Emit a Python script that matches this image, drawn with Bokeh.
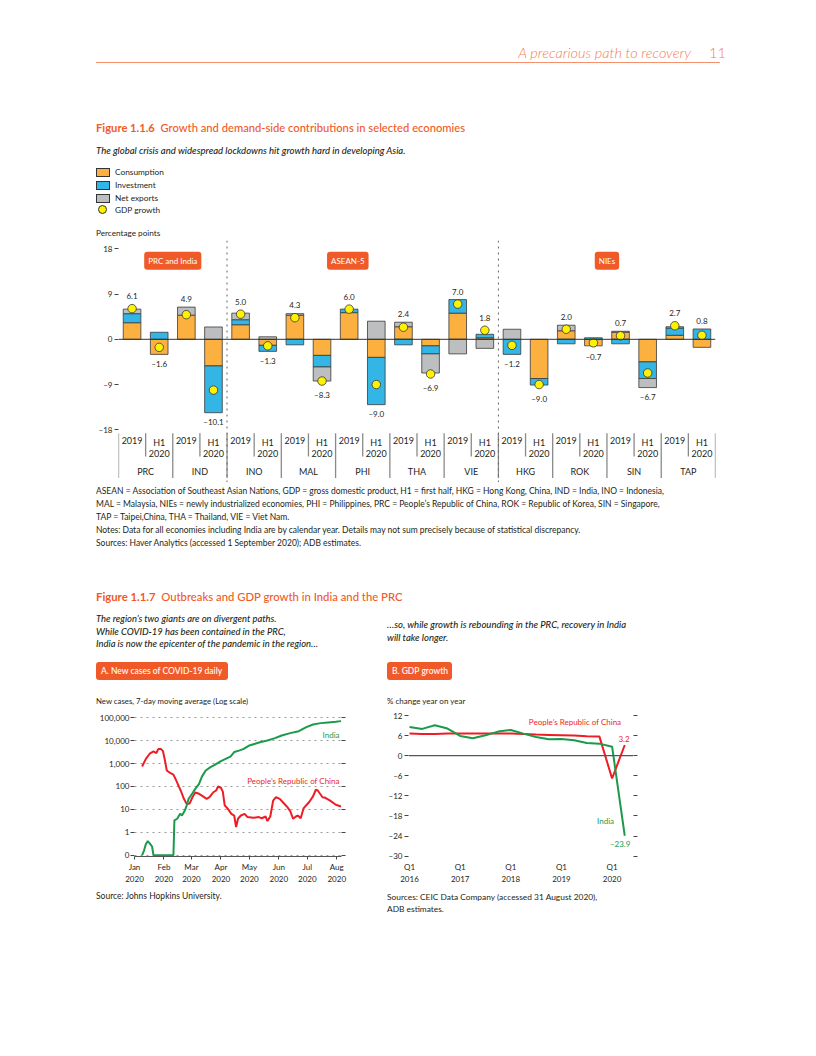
import numpy as np
from bokeh.plotting import figure
from bokeh.models import (FactorRange, Range1d, FixedTicker, Span, Label, Div,
                          ColumnDataSource, LinearAxis, LogAxis)
from bokeh.layouts import column, row
from bokeh.embed import file_html
from bokeh.resources import INLINE
from bokeh.core.properties import value

FONT = "Lato"
INK = "#231f20"
TITLE_ORANGE = "#F05A28"
C_CONS = "#FBB040"
C_INV = "#33B5E5"
C_NX = "#BCBEC0"
C_GDP = "#FFF200"
RED = "#EE1C25"
GREEN = "#1B9A4B"

# ---------------- Figure 1.1.6 data ----------------
economies = ["PRC", "IND", "INO", "MAL", "PHI", "THA", "VIE", "HKG", "ROK", "SIN", "TAP"]
periods = ["2019", "H1 2020"]
period_labels = ["2019", "H1\n2020"]
consumption = [3.3, -3.0, 4.8, -5.3, 2.9, -1.2, 4.8, -3.2, 5.3, -3.6, 2.5, -1.3,
               5.2, 0.3, 0.0, -7.8, 1.7, -1.3, 1.4, -4.5, 0.8, -1.6]
investment = [1.8, 1.4, 0.0, -9.3, 1.0, -1.2, -1.1, -2.3, 0.7, -9.4, -1.1, -1.6,
              2.7, 0.7, -3.0, -1.3, -0.9, 0.3, -0.9, -3.3, 1.45, 2.05]
net_exports = [0.9, 0.0, 1.6, 2.45, 1.3, 0.5, 0.3, -2.8, 0.0, 3.6, 0.9, -3.8,
               -2.9, -1.8, 2.0, 0.0, 1.1, 0.0, 0.2, -1.8, 0.25, 0.0]
gdp_growth = [6.1, -1.6, 4.9, -10.1, 5.0, -1.3, 4.3, -8.3, 6.0, -9.0, 2.4, -6.9,
              7.0, 1.8, -1.2, -9.0, 2.0, -0.7, 0.7, -6.7, 2.7, 0.8]
bar_yticks = [-18, -9, 0, 9, 18]
group_names = ["PRC and India", "ASEAN-5", "NIEs"]
legend_names = ["Consumption", "Investment", "Net exports", "GDP growth"]

# ---------------- Figure 1.1.7 A data (day of 2020, 7-day avg new cases) -------
prc_days = [8, 12, 16, 20, 23, 25, 28, 30, 32, 34, 38, 41, 44, 47, 49, 52, 55, 58, 61, 64,
            68, 71, 76, 79, 83, 86, 88, 91, 93, 95, 98, 102, 105, 107, 109, 112, 116, 119,
            125, 131, 134, 138, 140, 143, 146, 149, 153, 157, 161, 164, 167, 170, 172, 175,
            178, 184, 188, 191, 193, 198, 201, 206, 212, 217.5]
prc_cases = [750, 1600, 2700, 3400, 2900, 4300, 4300, 3500, 1400, 500, 380, 330, 180, 94,
             62, 29, 17, 18, 34, 55, 48, 40, 29, 34, 56, 67, 100, 88, 60, 15, 11, 6.4, 5.4,
             1.7, 3.9, 5.4, 6.4, 4.6, 4.3, 4.6, 4.1, 4.9, 3.1, 4.9, 24, 34, 29, 19, 12.5,
             8.4, 3.9, 4.9, 5.4, 4.1, 11, 21, 37, 72, 67, 34, 32, 24, 16, 13.4]
ind_days = [8, 10, 12, 14, 16, 18.5, 20, 41, 42, 45, 48, 50, 53, 55, 57, 61, 64, 68, 71, 75,
            80, 85, 91, 96, 101, 105, 110, 115, 121, 127, 133, 140, 148, 155, 164, 173, 181,
            188, 196, 204, 212, 217.5]
ind_cases = [0, 0.16, 0.31, 0.41, 0.33, 0.24, 0, 0, 3.3, 3.9, 6.4, 5.4, 8.9, 15, 29, 51, 79,
             130, 270, 500, 700, 910, 1280, 1600, 2000, 3200, 3700, 4400, 6200, 7300, 8700,
             10200, 12900, 16900, 21400, 26100, 39000, 51000, 58500, 62500, 66800, 71500]
month_names = ["Jan", "Feb", "Mar", "Apr", "May", "Jun", "Jul", "Aug"]
month_start_days = [0, 31, 60, 91, 121, 152, 182, 213]
case_ticks = [0.1, 1, 10, 100, 1000, 10000, 100000]
case_tick_labels = ["0", "1", "10", "100", "1,000", "10,000", "100,000"]

# ---------------- Figure 1.1.7 B data (GDP growth, % y-o-y) ----------------
quarters = ["2016Q1", "2016Q2", "2016Q3", "2016Q4", "2017Q1", "2017Q2", "2017Q3", "2017Q4",
            "2018Q1", "2018Q2", "2018Q3", "2018Q4", "2019Q1", "2019Q2", "2019Q3", "2019Q4",
            "2020Q1", "2020Q2"]
prc_gdp = [6.6, 6.5, 6.5, 6.6, 6.6, 6.6, 6.6, 6.6, 6.6, 6.5, 6.3, 6.2, 6.1, 6.0, 5.8, 5.7, -6.8, 3.2]
india_gdp = [8.6, 8.0, 9.1, 8.1, 5.9, 5.2, 6.1, 7.2, 7.7, 6.6, 5.6, 4.9, 5.0, 4.6, 3.8, 3.6, 2.7, -23.9]
gdp_ticks = [-30, -24, -18, -12, -6, 0, 6, 12]


def dash(v):
    return str(v).replace("-", "\u2013")


def style_axis(ax, size="8px"):
    ax.major_label_text_font = FONT
    ax.major_label_text_font_size = size
    ax.major_label_text_color = INK
    ax.minor_tick_line_color = None
    ax.major_tick_line_color = "#444444"
    ax.axis_line_color = None


# ================= Bar chart (Figure 1.1.6) =================
x_factors = [(e, pr) for e in economies for pr in periods]
xr = FactorRange(factors=x_factors, group_padding=0, factor_padding=0, range_padding=0)
p = figure(x_range=xr, y_range=Range1d(-28.48, 19.65), frame_width=597, frame_height=242,
           min_border_left=110, min_border_right=93, min_border_top=0, min_border_bottom=0,
           x_axis_location=None, toolbar_location=None, output_backend="svg", title=None)
p.outline_line_color = None
p.grid.visible = False
style_axis(p.yaxis[0])
p.yaxis.ticker = FixedTicker(ticks=bar_yticks)
p.yaxis.major_label_overrides = {t: dash(t) for t in bar_yticks}
p.yaxis.major_tick_out = 4
p.yaxis.major_tick_in = 0
p.yaxis.major_label_standoff = 2

for loc in (4, 14):
    p.add_layout(Span(location=loc, dimension="height", line_color="#666666",
                      line_dash="dotted", line_width=1))

comp = np.array([consumption, investment, net_exports], dtype=float)
pos = np.where(comp > 0, comp, 0.0)
neg = np.where(comp < 0, comp, 0.0)
pos_top = np.cumsum(pos, axis=0)
pos_bot = pos_top - pos
neg_bot = np.cumsum(neg, axis=0)
neg_top = neg_bot - neg
for k, col in enumerate([C_CONS, C_INV, C_NX]):
    xs, tops, bots = [], [], []
    for i, f in enumerate(x_factors):
        if pos[k, i] > 0:
            xs.append(f); tops.append(pos_top[k, i]); bots.append(pos_bot[k, i])
        if neg[k, i] < 0:
            xs.append(f); tops.append(neg_top[k, i]); bots.append(neg_bot[k, i])
    p.vbar(x=xs, top=tops, bottom=bots, width=0.65, fill_color=col,
           line_color="#3a3a3a", line_width=0.8)

p.add_layout(Span(location=0, dimension="width", line_color="#333333", line_width=1))

g = np.array(gdp_growth)
p.scatter(x=x_factors, y=gdp_growth, size=8.5, fill_color=C_GDP, line_color="#333333",
          line_width=0.8)
lab_y = np.where(g >= 0, np.maximum(pos_top[-1], g + 0.9) + 1.6,
                 np.minimum(neg_bot[-1], g - 0.9) - 1.9)
p.text(x=x_factors, y=lab_y, text=[dash(f"{v:.1f}") for v in gdp_growth],
       text_font=value(FONT), text_font_size="8px", text_color=INK,
       text_align="center", text_baseline="middle")

# category axis drawn inside the frame
sep_long = [(e, periods[0], -0.5) for e in economies] + [(economies[-1], periods[-1], 0.5)]
sep_short = [(e, periods[1], -0.5) for e in economies]
p.segment(x0=sep_long, y0=[-18.7] * len(sep_long), x1=sep_long, y1=[-27.6] * len(sep_long),
          line_color="#8a8a8a", line_width=1.3)
p.segment(x0=sep_short, y0=[-18.7] * len(sep_short), x1=sep_short, y1=[-23.3] * len(sep_short),
          line_color="#8a8a8a", line_width=1.3)
p.text(x=x_factors, y=[-19.4] * len(x_factors), text=period_labels * len(economies),
       text_font=value(FONT), text_font_size="9px", text_color=INK, text_line_height=1.0,
       text_align="center", text_baseline="top")
p.text(x=economies, y=[-26.2] * len(economies), text=economies,
       text_font=value(FONT), text_font_size="9px", text_color=INK,
       text_align="center", text_baseline="middle")

for gx, name in zip([2.0, 8.45, 18.0], group_names):
    p.add_layout(Label(x=gx, y=15.6, text=name, text_align="center", text_baseline="middle",
                       text_color="white", text_font=FONT, text_font_size="8px",
                       background_fill_color=TITLE_ORANGE, padding=4, border_radius=3))

# ================= Chart A: new cases (log) =================
pa = figure(x_range=Range1d(0, 218), y_range=Range1d(0.0877, 170300), y_axis_type="log",
            frame_width=207, frame_height=144, min_border_left=126, min_border_right=39,
            min_border_top=1, min_border_bottom=33, toolbar_location=None,
            output_backend="svg", title=None)
pa.outline_line_color = None
pa.xgrid.visible = False
pa.ygrid.ticker = FixedTicker(ticks=case_ticks)
pa.ygrid.grid_line_color = "#9a9a9a"
pa.ygrid.grid_line_dash = "dotted"
style_axis(pa.yaxis[0])
pa.yaxis.ticker = FixedTicker(ticks=case_ticks)
pa.yaxis.major_label_overrides = dict(zip(case_ticks, case_tick_labels))
pa.yaxis.major_tick_out = 4
pa.yaxis.major_tick_in = 0
pa.yaxis.major_label_standoff = 1
style_axis(pa.xaxis[0])
pa.xaxis.axis_line_color = "#555555"
pa.xaxis.ticker = FixedTicker(ticks=month_start_days)
pa.xaxis.major_label_overrides = {d: f"{m}\n2020" for d, m in zip(month_start_days, month_names)}
pa.xaxis.major_tick_out = 3
pa.xaxis.major_tick_in = 0
pa.xaxis.major_label_standoff = 2
ra = LogAxis(ticker=FixedTicker(ticks=case_ticks), major_label_text_font_size="6px",
             major_label_text_color=None, axis_line_color=None, major_tick_out=4,
             major_tick_in=0, minor_tick_line_color=None, major_tick_line_color="#444444")
pa.add_layout(ra, "right")

pa.line(prc_days, prc_cases, line_color=RED, line_width=2)
ind_plot = np.where(np.array(ind_cases) > 0, np.array(ind_cases), case_ticks[0])
pa.line(ind_days, ind_plot, line_color=GREEN, line_width=2)
pa.add_layout(Label(x=216, y=18600, text="India", text_align="right", text_baseline="middle",
                    text_color=GREEN, text_font=FONT, text_font_size="8px"))
pa.add_layout(Label(x=216, y=182, text="People\u2019s Republic of China", text_align="right",
                    text_baseline="middle", text_color=RED, text_font=FONT,
                    text_font_size="8px"))

# ================= Chart B: GDP growth =================
qx = list(range(len(quarters)))
q1_idx = [i for i, q in enumerate(quarters) if q.endswith("Q1")]
pb = figure(x_range=Range1d(-0.08, 17.69), y_range=Range1d(-30.69, 12.9),
            frame_width=225, frame_height=146, min_border_left=28, min_border_right=24,
            min_border_top=2, min_border_bottom=30, toolbar_location=None,
            output_backend="svg", title=None)
pb.outline_line_color = None
pb.grid.visible = False
style_axis(pb.yaxis[0])
pb.yaxis.ticker = FixedTicker(ticks=gdp_ticks)
pb.yaxis.major_label_overrides = {t: dash(t) for t in gdp_ticks}
pb.yaxis.major_tick_out = 4
pb.yaxis.major_tick_in = 0
pb.yaxis.major_label_standoff = 2
style_axis(pb.xaxis[0])
pb.xaxis.major_tick_line_color = None
pb.xaxis.major_tick_out = 0
pb.xaxis.ticker = FixedTicker(ticks=q1_idx)
pb.xaxis.major_label_overrides = {i: "Q1\n" + quarters[i][:4] for i in q1_idx}
pb.xaxis.major_label_standoff = 3
rb = LinearAxis(ticker=FixedTicker(ticks=gdp_ticks), major_label_text_font_size="6px",
                major_label_text_color=None, axis_line_color=None, major_tick_out=4,
                major_tick_in=0, minor_tick_line_color=None, major_tick_line_color="#444444")
pb.add_layout(rb, "right")
pb.add_layout(Span(location=0, dimension="width", line_color="#555555", line_width=1.2))
pb.line(qx, prc_gdp, line_color=RED, line_width=2)
pb.line(qx, india_gdp, line_color=GREEN, line_width=2)
pb.add_layout(Label(x=16.72, y=10.2, text="People\u2019s Republic of China", text_align="right",
                    text_baseline="middle", text_color=RED, text_font=FONT,
                    text_font_size="8px"))
pb.add_layout(Label(x=16.94, y=5.0, text=dash(f"{prc_gdp[-1]:.1f}"), text_align="center",
                    text_baseline="middle", text_color=RED, text_font=FONT,
                    text_font_size="8px"))
pb.add_layout(Label(x=15.48, y=-19.6, text="India", text_align="center",
                    text_baseline="middle", text_color=GREEN, text_font=FONT,
                    text_font_size="8px"))
pb.add_layout(Label(x=16.63, y=-26.5, text=dash(f"{india_gdp[-1]:.1f}"), text_align="center",
                    text_baseline="middle", text_color=GREEN, text_font=FONT,
                    text_font_size="8px"))


# ================= HTML text blocks =================
def block(items, h):
    inner = "".join(
        f'<div style="position:absolute;left:{x}px;top:{y}px;white-space:nowrap;{st}">{html}</div>'
        for (x, y, st, html) in items)
    return Div(text=f'<div style="position:relative;width:800px;height:{h}px;'
                    f'font-family:{FONT},sans-serif;color:{INK};">{inner}</div>',
               width=800, height=h, margin=0)


hdr = "font-size:14.5px;line-height:16px;color:#F47C55;font-weight:300;"
top_items = [
    (0, 37, f"{hdr}font-style:italic;width:683px;text-align:right;", "A precarious path to recovery"),
    (701, 37, hdr, "11"),
    (88, 54, "width:624px;height:0;border-top:1.5px solid #F7906C;", ""),
    (88, 113, f"font-size:11.2px;line-height:14px;color:{TITLE_ORANGE};font-weight:500;",
     "<b>Figure 1.1.6</b>&nbsp;&nbsp;Growth and demand-side contributions in selected economies"),
    (88, 137, "font-size:9.5px;line-height:12px;font-style:italic;font-weight:500;",
     "The global crisis and widespread lockdowns hit growth hard in developing Asia."),
]
sw_colors = [C_CONS, C_INV, C_NX]
leg_centers = [164, 177, 190, 201.7]
for i, name in enumerate(legend_names):
    cy = leg_centers[i]
    if i < 3:
        top_items.append((88, cy - 4.5, f"width:14px;height:9px;box-sizing:border-box;"
                                         f"background:{sw_colors[i]};border:1px solid #333;", ""))
    else:
        top_items.append((90, cy - 4.5, f"width:9px;height:9px;box-sizing:border-box;border-radius:50%;"
                                         f"background:{C_GDP};border:1px solid #333;", ""))
    top_items.append((107, cy - 6, "font-size:8.3px;line-height:12px;", name))
top_items.append((88, 219, "font-size:8.2px;line-height:12px;", "Percentage points"))
div_top = block(top_items, 232)

notes_html = ("ASEAN = Association of Southeast Asian Nations, GDP = gross domestic product, H1 = first half, "
              "HKG = Hong Kong, China, IND = India, INO = Indonesia,<br>"
              "MAL = Malaysia, NIEs = newly industrialized economies, PHI = Philippines, "
              "PRC = People\u2019s Republic of China, ROK = Republic of Korea, SIN = Singapore,<br>"
              "TAP = Taipei,China, THA = Thailand, VIE = Viet Nam.<br>"
              "Notes: Data for all economies including India are by calendar year. Details may not sum "
              "precisely because of statistical discrepancy.<br>"
              "Sources: Haver Analytics (accessed 1 September 2020); ADB estimates.")
box = (f"height:18px;line-height:18px;background:{TITLE_ORANGE};color:white;border-radius:3px;"
       "font-size:8.5px;font-weight:500;padding:0 5px;box-sizing:border-box;")
mid_items = [
    (88, 2.5, "font-size:8.5px;line-height:13px;", notes_html),
    (88, 108, f"font-size:11.3px;line-height:14px;color:{TITLE_ORANGE};font-weight:500;",
     "<b>Figure 1.1.7</b>&nbsp;&nbsp;Outbreaks and GDP growth in India and the PRC"),
    (88, 131, "font-size:9.4px;line-height:12.5px;font-style:italic;font-weight:500;",
     "The region\u2019s two giants are on divergent paths.<br>While COVID-19 has been contained in "
     "the PRC,<br>India is now the epicenter of the pandemic in the region\u2026"),
    (379, 137, "font-size:9.5px;line-height:12.5px;font-style:italic;font-weight:500;",
     "\u2026so, while growth is rebounding in the PRC, recovery in India<br>will take longer."),
    (88, 180, box + "width:132px;", "A. New cases of COVID-19 daily"),
    (379, 180, box + "width:65px;", "B. GDP growth"),
    (88, 213, "font-size:7.8px;line-height:12px;", "New cases, 7-day moving average (Log scale)"),
    (379, 213, "font-size:8px;line-height:12px;", "% change year on year"),
]
div_mid = block(mid_items, 228)

bot_items = [
    (88, 2, "font-size:8.5px;line-height:12px;", "Source: Johns Hopkins University."),
    (379, 3, "font-size:8.4px;line-height:12px;",
     "Sources: CEIC Data Company (accessed 31 August 2020),<br>ADB estimates."),
]
div_bot = block(bot_items, 40)

layout = column(div_top, p, div_mid, row(pa, pb), div_bot, margin=(8, 8, 8, 8))
open("out.html", "w", encoding="utf-8").write(file_html(layout, INLINE))
